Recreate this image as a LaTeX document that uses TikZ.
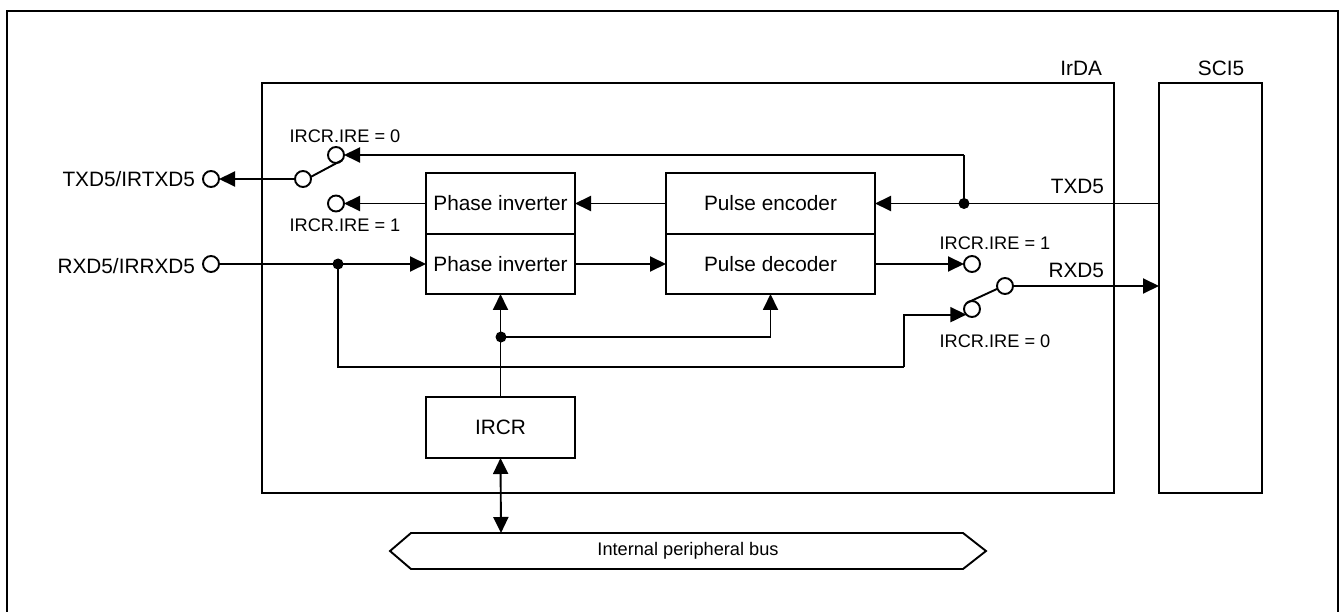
\documentclass[tikz,border=0pt]{standalone}
\usepackage{fontspec}
\setmainfont{Liberation Sans}
\usetikzlibrary{arrows.meta,calc}
\begin{document}
\begin{tikzpicture}[x=1pt,y=-1pt,line width=1.9pt,
  blk/.style={draw,rectangle,inner sep=0pt,outer sep=0pt,font=\fontsize{20.8}{24}\selectfont},
  term/.style={draw,circle,minimum size=16pt,inner sep=0pt,outer sep=0pt,fill=white},
  lab/.style={inner sep=0pt,font=\fontsize{20.8}{24}\selectfont},
  slab/.style={inner sep=0pt,font=\fontsize{18.2}{22}\selectfont},
  arr/.style={-{Triangle[length=16pt,width=15pt]}},
  darr/.style={{Triangle[length=16pt,width=15pt]}-{Triangle[length=16pt,width=15pt]}},
  jdot/.style={circle,fill,inner sep=0pt,minimum size=11pt}]
\useasboundingbox (0,0) rectangle (1341,612);
% outer frame (open at the bottom)
\draw[line width=2pt] (6.5,612) -- (6.5,11.5) -- (1338,11.5) -- (1338,612);
% main blocks
\node[blk,minimum width=852pt,minimum height=410pt] (irda) at (688,288) {};
\node[blk,minimum width=103pt,minimum height=410pt] (sci) at (1210.5,288) {};
\node[lab,anchor=east] (irdalab) at (1103,68) {IrDA};
\node[lab] (scilab) at (1221,68) {SCI5};
\node[blk,minimum width=149pt,minimum height=61pt] (pinv1) at (500.5,203.5) {Phase inverter};
\node[blk,minimum width=149pt,minimum height=60pt] (pinv2) at (500.5,264) {Phase inverter};
\node[blk,minimum width=209pt,minimum height=61pt] (penc) at (770.5,203.5) {Pulse encoder};
\node[blk,minimum width=209pt,minimum height=60pt] (pdec) at (770.5,264) {Pulse decoder};
\node[blk,minimum width=149pt,minimum height=61pt] (ircr) at (500.5,427.5) {IRCR};
% bus
\draw (390,551) -- (411,533) -- (963,533) -- (986,551) -- (963,569) -- (411,569) -- cycle;
\node[slab] (bus) at (688,551) {Internal peripheral bus};
\coordinate (bustop) at (501,533);
% terminals
\node[term] (txout) at (211,179) {};
\node[term] (rxin) at (211,264) {};
\node[lab,anchor=east] (txlab) at (196,179) {TXD5/IRTXD5};
\node[lab,anchor=east] (rxlab) at (196,266) {RXD5/IRRXD5};
\node[term] (txsw) at (303,179) {};
\node[term] (tx0) at (336,155) {};
\node[term] (tx1) at (336,203.5) {};
\node[slab] (tx0lab) at (345,136) {IRCR.IRE = 0};
\node[slab] (tx1lab) at (345,225) {IRCR.IRE = 1};
\node[term] (rx1) at (972,264) {};
\node[term] (rx0) at (972,309) {};
\node[term] (rxsw) at (1005,286) {};
\node[slab] (rx1lab) at (995,243) {IRCR.IRE = 1};
\node[slab] (rx0lab) at (995,341) {IRCR.IRE = 0};
\node[lab,anchor=east] (txd5lab) at (1105,186) {TXD5};
\node[lab,anchor=east] (rxd5lab) at (1105,270) {RXD5};
% junctions
\node[jdot] (jtx) at (964,203.5) {};
\node[jdot] (jrx) at (338,264) {};
\node[jdot] (jir) at (501,337) {};
% transmit path
\draw[arr] (sci.west |- jtx) -- (penc.east);
\draw (jtx.center) -- (jtx |- tx0) coordinate (jtxtop);
\draw[arr] (jtxtop) -- (tx0.east);
\draw[arr] (penc.west) -- (pinv1.east);
\draw[arr] (pinv1.west) -- (tx1.east);
\draw (txsw.15) -- (tx0.-40);
\draw[arr] (txsw.west) -- (txout.east);
% receive path
\draw[arr] (rxin.east) -- (pinv2.west);
\draw[arr] (pinv2.east) -- (pdec.west);
\draw[arr] (pdec.east) -- (rx1.west);
\draw (jrx.center) -- (338,367) -- (904,367) coordinate (loopc);
\draw[arr] (loopc) |- (rx0.225);
\draw (rx0.130) -- (rxsw.200);
\draw[arr] (rxsw.east) -- (sci.west |- rxsw);
% control
\draw[arr] (ircr.north) -- (pinv2.south);
\draw[arr] (jir.center) -| (pdec.south);
\draw[darr] (ircr.south) -- (bustop);
\end{tikzpicture}
\end{document}
